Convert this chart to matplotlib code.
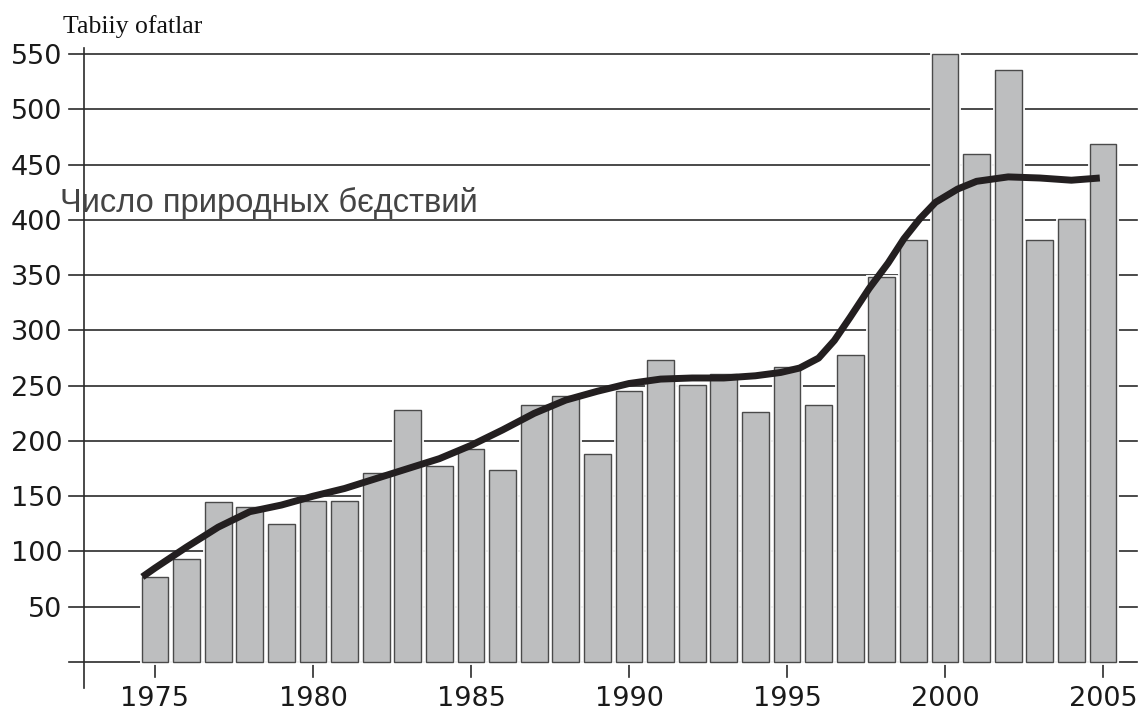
import numpy as np
import matplotlib.pyplot as plt
import matplotlib.patheffects as pe

years = list(range(1975, 2006))
counts = [77, 93, 145, 140, 125, 146, 146, 171, 228, 177,
          193, 174, 233, 241, 188, 245, 273, 251, 261, 226,
          267, 233, 278, 348, 382, 550, 460, 536, 382, 401, 469]

# trend curve (extra points where it is steep)
trend_years = [1974.6, 1975, 1976, 1977, 1978, 1979, 1980, 1981, 1982, 1983,
               1984, 1985, 1986, 1987, 1988, 1989, 1990, 1991, 1992, 1993,
               1994, 1994.8, 1995.4, 1996, 1996.5, 1997, 1997.6, 1998.2,
               1998.7, 1999.2, 1999.7, 2000.4, 2001, 2002, 2003, 2004, 2004.9]
trend = [77, 85, 104, 122, 136, 142, 150, 157, 166, 175,
         184, 196, 210, 225, 237, 245, 252, 256, 257, 257,
         259, 262, 266, 275, 291, 312, 338, 361, 383, 401, 416, 428, 435,
         439, 438, 436, 438]

yticks = [50, 100, 150, 200, 250, 300, 350, 400, 450, 500, 550]
xticks = [1975, 1980, 1985, 1990, 1995, 2000, 2005]

title = "Tabiiy ofatlar"
series_label = "Число природных бєдствий"

fig = plt.figure(figsize=(11.39, 7.13), dpi=100)
ax = fig.add_axes([0, 0, 1, 1])
ax.set_xlim(1970.095, 2006.14)
ax.set_ylim(-46.2, 599.1)
ax.axis("off")

# grid lines (they also act as left ticks)
for v in [0] + yticks:
    ax.plot([1972.28, 2006.08], [v, v], color="#2b2b2b", lw=1.2, zorder=1)

# left axis line
ax.plot([1972.74, 1972.74], [-23.5, 556], color="#2b2b2b", lw=1.2, zorder=1)

bars = ax.bar(years, counts, width=0.85, color="#bdbebf",
              edgecolor="#4a4a4a", linewidth=1.0, zorder=2)
for b in bars:
    b.set_path_effects([pe.Stroke(linewidth=3.5, foreground="white"), pe.Normal()])

ax.plot(trend_years, trend, color="#231f20", lw=5, solid_capstyle="butt",
        solid_joinstyle="round", zorder=3)

# bottom ticks and labels
for x in xticks:
    ax.plot([x, x], [0, -13.5], color="#2b2b2b", lw=1.2, zorder=1)
    ax.text(x, -40.3, str(x), ha="center", va="baseline", fontsize=19.5,
            family="DejaVu Sans", color="#1a1a1a")

for v in yticks:
    ax.text(1972.06, v, str(v), ha="right", va="center_baseline", fontsize=19.5,
            family="DejaVu Sans", color="#1a1a1a")

ax.text(1972.0, 407, series_label, ha="left", va="baseline", fontsize=23.5,
        family="Liberation Sans", color="#444444", zorder=4)

ax.text(1972.09, 569.5, title, ha="left", va="baseline", fontsize=18.5,
        family="Liberation Serif", color="#111111")

fig.savefig("out.png", dpi=100)
